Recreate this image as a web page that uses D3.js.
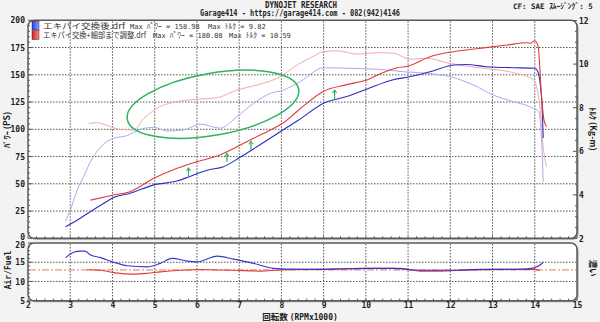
<!DOCTYPE html>
<html><head><meta charset="utf-8">
<script src="https://cdn.jsdelivr.net/npm/d3@7"></script>
<style>body{margin:0;background:#f3f3f3;} svg{display:block;}</style>
</head><body><svg id="c" width="600" height="322"></svg>
<script>
// ---------- data ----------
const rpmTicks = [2,3,4,5,6,7,8,9,10,11,12,13,14,15];
const powerTicks = [0,25,50,75,100,125,150,175,200];
const torqueTicks = [2,4,6,8,10,12];
const afTicks = [5,10,15,20];
const afTarget = 13;

const runNames = ["エキパイ交換後.drf", "エキパイ交換+細部まで調整.drf"];
const maxPower = ["158.98", "180.08"];
const maxTorque = ["9.82", "10.59"];

// [rpm x1000, PS]
const bluePower = [[2.89,10.6],[3.2,17.5],[3.5,25],[3.75,31],[4.03,37.5],[4.42,41.3],[4.98,49],[5.53,52.5],[5.85,57],[6.24,62.5],[6.63,65.7],[7.03,74.5],[7.42,84],[7.98,98],[8.41,108.5],[9.0,124],[9.55,130],[10.03,137],[10.65,145.5],[11.01,148],[11.52,152.8],[12.08,159],[12.39,159.5],[12.86,157.4],[13.49,156.5],[14.0,156],[14.06,154],[14.16,130],[14.2,92]];
const redPower = [[3.48,35],[4.03,39.7],[4.43,43],[4.98,55],[5.53,64.2],[6.0,70.3],[6.48,75.5],[6.95,84],[7.34,91.7],[7.74,99.4],[8.05,106],[8.41,117.7],[9.0,135],[9.55,141],[10.07,146],[10.34,151],[10.74,156.5],[11.01,158],[11.52,166.6],[12.08,171.2],[12.71,174.3],[13.34,177.3],[13.81,179.4],[13.9,179],[14.0,181.3],[14.08,176],[14.16,130],[14.22,108],[14.28,102.5]];
// [rpm x1000, kg-m]
const blueTorque = [[2.89,2.8],[3.0,3.3],[3.16,4.2],[3.32,4.85],[3.5,5.6],[3.72,6.2],[4.03,6.6],[4.35,6.72],[4.58,6.95],[4.98,7.1],[5.29,6.93],[5.69,6.98],[6.08,7.25],[6.55,7.06],[6.95,7.59],[7.34,8.2],[7.74,8.66],[8.05,8.81],[8.45,9.2],[9.0,9.83],[9.55,9.81],[10.34,9.76],[10.89,9.65],[11.44,9.58],[12.0,9.42],[12.55,9.04],[13.02,8.58],[13.49,8.28],[13.97,7.97],[14.09,7.82],[14.17,6.2],[14.2,4.6]];
const redTorque = [[3.44,7.28],[3.64,7.31],[3.95,7.13],[4.19,7.0],[4.5,6.98],[4.74,7.5],[5.13,8.05],[5.53,8.28],[6.0,8.39],[6.48,8.46],[6.95,8.81],[7.42,9.04],[7.9,9.35],[8.41,10.0],[8.7,10.3],[9.0,10.57],[9.32,10.61],[9.79,10.46],[10.26,10.52],[10.65,10.5],[11.05,10.22],[11.44,10.27],[11.92,10.06],[12.47,9.88],[13.02,9.76],[13.49,9.61],[13.97,9.27],[14.12,8.05],[14.2,6.2],[14.28,5.3]];
// [rpm x1000, A/F]
const blueAF = [[2.89,16.2],[3.08,17.6],[3.24,17.9],[3.34,17.9],[3.48,16.9],[3.72,16.2],[4.03,15.0],[4.35,14.1],[4.82,13.8],[5.13,14.7],[5.41,16.0],[5.77,15.3],[6.0,15.1],[6.48,16.6],[6.87,15.8],[7.34,14.7],[7.82,13.4],[8.13,13.2],[8.76,13.15],[9.23,13.2],[10.02,13.4],[10.65,13.4],[10.97,13.15],[11.29,12.9],[12.0,12.9],[12.78,13.15],[13.57,13.15],[13.93,13.4],[14.09,14.0],[14.2,15.0]];
const redAF = [[3.4,13.05],[3.72,12.9],[4.03,12.3],[4.5,11.9],[4.82,12.1],[5.13,12.5],[5.61,12.9],[6.08,13.1],[6.48,13.0],[6.87,12.9],[7.5,12.7],[7.97,13.0],[8.76,13.15],[10.02,13.4],[10.81,13.4],[11.29,12.7],[11.76,12.7],[12.39,13.0],[13.18,13.15],[13.97,13.15],[14.12,12.9]];
// annotations: arrows [rpm, fromPS, toPS]; ellipse centre [rpm, PS], half-axes [rpm, PS]
const arrows = [[5.8,57,64.5],[6.71,70,78],[7.28,81,89],[9.26,127,136]];
const ellipseCentre = [6.38, 123];
const ellipseHalf = [2.06, 28.5];

// ---------- drawing ----------
const svg = d3.select("#c");
const x = d3.scaleLinear([2,15],[28,577]);
const yP = d3.scaleLinear([0,200],[238.3,20.3]);
const yT = d3.scaleLinear([2,12],[238.5,20.5]);
const yAF = d3.scaleLinear([5,20],[300.7,243]);
const mono = "'DejaVu Sans Mono', monospace";
const jp = "'Noto Sans CJK JP', sans-serif";
const grid = "#555";

// frames
function frame(y0, y1) {
  svg.append("rect").attr("x", x(2)+1.5).attr("y", y1+1.5).attr("width", x(15)-x(2)).attr("height", y0-y1)
    .attr("rx",6).attr("fill","#9a9a9a");
  svg.append("rect").attr("x", x(2)).attr("y", y1).attr("width", x(15)-x(2)).attr("height", y0-y1)
    .attr("rx",6).attr("fill","#fff").attr("stroke","#5a5a5a").attr("stroke-width",1.5);
}
frame(yP(0), yP(200));
frame(yAF(5), yAF(20));

// gridlines
const gm = svg.append("g").attr("stroke", grid).attr("stroke-width",1).attr("stroke-dasharray","1.5,1.5");
rpmTicks.filter(d=>d>2&&d<15).forEach(d=>{
  gm.append("line").attr("x1",x(d)).attr("x2",x(d)).attr("y1",yP(200)+1).attr("y2",yP(0)-1);
  gm.append("line").attr("x1",x(d)).attr("x2",x(d)).attr("y1",yAF(20)+1).attr("y2",yAF(5)-1);
});
powerTicks.filter(d=>d>0&&d<200).forEach(d=>{
  gm.append("line").attr("x1",x(2)+1).attr("x2",x(15)-1).attr("y1",yP(d)).attr("y2",yP(d));
});
[10,15].forEach(d=>{
  gm.append("line").attr("x1",x(2)+1).attr("x2",x(15)-1).attr("y1",yAF(d)).attr("y2",yAF(d));
});

// minor ticks
const tk = svg.append("g").attr("stroke","#555").attr("stroke-width",1);
d3.range(2,15.01,0.2).forEach(d=>{
  tk.append("line").attr("x1",x(d)).attr("x2",x(d)).attr("y1",yP(0)).attr("y2",yP(0)-2);
  tk.append("line").attr("x1",x(d)).attr("x2",x(d)).attr("y1",yAF(5)).attr("y2",yAF(5)-2);
});
d3.range(0,200.1,5).forEach(d=>{
  tk.append("line").attr("x1",x(2)).attr("x2",x(2)+(d%25===0?4:2)).attr("y1",yP(d)).attr("y2",yP(d));
});
d3.range(2,12.01,0.5).forEach(d=>{
  tk.append("line").attr("x1",x(15)).attr("x2",x(15)-(d%2===0?4:2)).attr("y1",yT(d)).attr("y2",yT(d));
});
d3.range(5,20.1,1).forEach(d=>{
  tk.append("line").attr("x1",x(2)).attr("x2",x(2)+(d%5===0?4:2)).attr("y1",yAF(d)).attr("y2",yAF(d));
});

// axes (labels)
function styleAxis(g){ g.select(".domain").remove(); g.selectAll(".tick line").remove();
  g.selectAll("text").attr("font-family",mono).attr("font-weight","bold").attr("font-size",8).attr("fill","#222"); }
const gl = svg.append("g").attr("transform",`translate(${x(2)-2},0)`).call(d3.axisLeft(yP).tickValues(powerTicks).tickSize(0).tickPadding(1)).call(styleAxis);
gl.selectAll(".tick").filter(d=>d===0).select("text").attr("dy","0.1em");
svg.append("g").attr("transform",`translate(${x(15)+1},0)`).call(d3.axisRight(yT).tickValues(torqueTicks).tickSize(0).tickPadding(1)).call(styleAxis);
const ga = svg.append("g").attr("transform",`translate(${x(2)-2},0)`).call(d3.axisLeft(yAF).tickValues(afTicks).tickSize(0).tickPadding(1)).call(styleAxis);
ga.selectAll(".tick").filter(d=>d===20).select("text").attr("dy","0.62em");
svg.append("g").attr("transform",`translate(0,${yAF(5)+1})`).call(d3.axisBottom(x).tickValues(rpmTicks).tickSize(0).tickPadding(1).tickFormat(d3.format("d"))).call(styleAxis);

// lines
const lineP = d3.line().x(d=>x(d[0])).y(d=>yP(d[1])).curve(d3.curveMonotoneX);
const lineT = d3.line().x(d=>x(d[0])).y(d=>yT(d[1])).curve(d3.curveMonotoneX);
const lineA = d3.line().x(d=>x(d[0])).y(d=>yAF(d[1])).curve(d3.curveMonotoneX);
function path(data, gen, color, w){ svg.append("path").attr("d",gen(data)).attr("fill","none").attr("stroke",color).attr("stroke-width",w).attr("stroke-linejoin","round"); }
path(blueTorque, lineT, "#aaaaee", 1);
path(redTorque, lineT, "#f2aaaa", 1);
path(bluePower, lineP, "#2d2dc4", 1.1);
path(redPower, lineP, "#e23a3a", 1.1);

// A/F
svg.append("line").attr("x1",x(2)+1).attr("x2",x(15)-1).attr("y1",yAF(afTarget)).attr("y2",yAF(afTarget))
  .attr("stroke","#e07a5a").attr("stroke-width",1).attr("stroke-dasharray","7,2,2,2");
path(redAF, lineA, "#e23a3a", 1.1);
path(blueAF, lineA, "#3535d0", 1.1);

// annotations
const green = "#2fb25e";
const ecx = x(ellipseCentre[0]), ecy = yP(ellipseCentre[1]);
svg.append("ellipse").attr("cx",ecx).attr("cy",ecy)
  .attr("rx", x(ellipseCentre[0]+ellipseHalf[0])-ecx).attr("ry", ecy - yP(ellipseCentre[1]+ellipseHalf[1]))
  .attr("transform",`rotate(-10,${ecx},${ecy})`).attr("fill","none").attr("stroke",green).attr("stroke-width",1.5);
arrows.forEach(a=>{
  const ax = x(a[0]), y0 = yP(a[1]), y1 = yP(a[2]);
  svg.append("line").attr("x1",ax).attr("x2",ax).attr("y1",y0).attr("y2",y1+1).attr("stroke",green).attr("stroke-width",1.2);
  svg.append("path").attr("d",`M${ax-2},${y1+3}L${ax},${y1}L${ax+2},${y1+3}`).attr("fill","none").attr("stroke",green).attr("stroke-width",1.1);
});

// legend
const legColors = [["#2a3ad8","#8ea0ff"],["#d81c1c","#ff8a8a"]];
const nameWidth = [82, 103];
const pwrX = [130, 153], trqX = [208, 229];
const defs = svg.append("defs");
legColors.forEach((c,i)=>{
  const g = defs.append("linearGradient").attr("id","lg"+i).attr("x1",0).attr("x2",1).attr("y1",0).attr("y2",0);
  g.append("stop").attr("offset","0%").attr("stop-color",c[0]);
  g.append("stop").attr("offset","100%").attr("stop-color",c[1]);
});
runNames.forEach((n,i)=>{
  const yy = 21 + i*9.6;
  svg.append("rect").attr("x",32).attr("y",yy).attr("width",7).attr("height",9).attr("fill",`url(#lg${i})`).attr("stroke","#333").attr("stroke-width",0.5);
  const t = svg.append("g").attr("font-family",jp).attr("font-size",7.5).attr("fill","#333");
  t.append("text").attr("x",43).attr("y",yy+7.5).attr("textLength",nameWidth[i]).attr("lengthAdjust","spacingAndGlyphs").text(n);
  const p = t.append("text").attr("x",pwrX[i]).attr("y",yy+7.5);
  p.append("tspan").attr("font-family",mono).attr("font-size",7).text("Max ");
  p.append("tspan").text("ﾊﾟﾜｰ");
  p.append("tspan").attr("font-family",mono).attr("font-size",7).text(" = "+maxPower[i]);
  const q = t.append("text").attr("x",trqX[i]).attr("y",yy+7.5);
  q.append("tspan").attr("font-family",mono).attr("font-size",7).text("Max ");
  q.append("tspan").text("ﾄﾙｸ");
  q.append("tspan").attr("font-family",mono).attr("font-size",7).text(" = "+maxTorque[i]);
});

// header
svg.append("text").attr("x",301).attr("y",7.5).attr("text-anchor","middle").attr("font-family",mono).attr("font-weight","bold")
  .attr("font-size",8).attr("fill","#222").attr("textLength",72).attr("lengthAdjust","spacingAndGlyphs").text("DYNOJET  RESEARCH");
svg.append("text").attr("x",300).attr("y",15.5).attr("text-anchor","middle").attr("font-family",mono).attr("font-weight","bold")
  .attr("font-size",8).attr("fill","#222").attr("textLength",200).attr("lengthAdjust","spacingAndGlyphs").text("Garage414 - https://garage414.com - 082(942)4146");
const cf = svg.append("text").attr("x",513).attr("y",8.5).attr("font-family",mono).attr("font-weight","bold").attr("font-size",7.5).attr("fill","#222");
cf.append("tspan").text("CF: SAE  ");
cf.append("tspan").attr("font-family",jp).text("ｽﾑｰｼﾞﾝｸﾞ");
cf.append("tspan").text(": 5");

// axis titles
svg.append("text").attr("transform","translate(10,130) rotate(-90)").attr("text-anchor","middle").attr("font-family",jp).attr("font-weight","bold").attr("font-size",8.5).attr("fill","#222").text("ﾊﾟﾜｰ (PS)");
svg.append("text").attr("transform","translate(590,129) rotate(90)").attr("text-anchor","middle").attr("font-family",jp).attr("font-weight","bold").attr("font-size",8.5).attr("fill","#222").text("ﾄﾙｸ (Kg-m)");
svg.append("text").attr("transform","translate(11,270) rotate(-90)").attr("text-anchor","middle").attr("font-family",mono).attr("font-weight","bold").attr("font-size",8).attr("fill","#222").text("Air/Fuel");
svg.append("text").attr("transform","translate(590,268) rotate(90)").attr("text-anchor","middle").attr("font-family",jp).attr("font-weight","bold").attr("font-size",8.5).attr("fill","#222").text("濃い");
const xt = svg.append("text").attr("x",300).attr("y",320).attr("text-anchor","middle").attr("font-family",jp).attr("font-weight","bold").attr("font-size",8.5).attr("fill","#222");
xt.append("tspan").text("回転数 ");
xt.append("tspan").attr("font-family",mono).attr("font-size",8).text("(RPMx1000)");
</script></body></html>
